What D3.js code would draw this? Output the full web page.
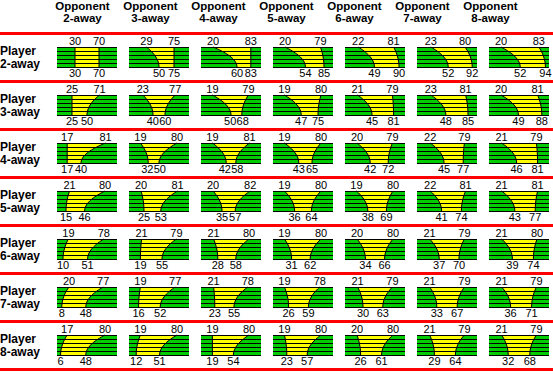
<!DOCTYPE html>
<html>
<head>
<meta charset="utf-8">
<script src="https://cdn.jsdelivr.net/npm/d3@7"></script>
<style>
  body { margin: 0; background: #fff; }
  text { font-family: Arial, "Liberation Sans", sans-serif; }
</style>
</head>
<body>
<svg id="chart"></svg>
<script>
// players / opponents (n-away)
const players = ["2-away", "3-away", "4-away", "5-away", "6-away", "7-away", "8-away"];
const opponents = ["2-away", "3-away", "4-away", "5-away", "6-away", "7-away", "8-away"];

// window edges, one row per player, one column per opponent
const topLow = [
    [30, 29, 20, 20, 22, 23, 20],
    [25, 23, 19, 19, 21, 23, 20],
    [17, 19, 19, 19, 20, 22, 21],
    [21, 20, 20, 19, 19, 22, 21],
    [19, 21, 21, 19, 20, 21, 21],
    [20, 19, 21, 19, 21, 21, 21],
    [17, 19, 19, 19, 20, 21, 21]
];
const topHigh = [
    [70, 75, 83, 79, 81, 80, 83],
    [71, 77, 79, 80, 79, 81, 81],
    [81, 80, 81, 80, 79, 79, 79],
    [80, 81, 82, 80, 80, 81, 81],
    [78, 79, 80, 80, 80, 79, 80],
    [77, 77, 78, 78, 79, 79, 79],
    [80, 80, 80, 80, 80, 79, 79]
];
const bottomLow = [
    [30, 50, 60, 54, 49, 52, 52],
    [25, 40, 50, 47, 45, 48, 49],
    [17, 32, 42, 43, 42, 45, 46],
    [15, 25, 35, 36, 38, 41, 43],
    [10, 19, 28, 31, 34, 37, 39],
    [8, 16, 23, 26, 30, 33, 36],
    [6, 12, 19, 23, 26, 29, 32]
];
const bottomHigh = [
    [70, 75, 83, 85, 90, 92, 94],
    [50, 60, 68, 75, 81, 85, 88],
    [40, 50, 58, 65, 72, 77, 81],
    [46, 53, 57, 64, 69, 74, 77],
    [51, 55, 58, 62, 66, 70, 74],
    [48, 52, 55, 59, 63, 67, 71],
    [48, 51, 54, 57, 61, 64, 68]
];

const width = 553, height = 374;
const boxW = 60, boxH = 20, stripes = 5;

const svg = d3.select("#chart")
    .attr("width", width)
    .attr("height", height);

// grid placement
const colX = d3.scaleLinear().domain([0, 6]).range([57, 489]);
const headX = d3.scaleLinear().domain([0, 6]).range([82.5, 490.5]);
const rowY = d3.scaleLinear().domain([0, 6]).range([47, 335]);

// inside a cell
const x = d3.scaleLinear().domain([0, 100]).range([0, boxW]);
const y = d3.scaleLinear().domain([0, 1]).range([0, boxH]);

// column headers
opponents.forEach((o, c) => {
    const t = svg.append("text")
        .attr("x", headX(c))
        .attr("text-anchor", "middle")
        .style("font-size", "11.5px")
        .style("font-weight", "bold");
    t.append("tspan").attr("x", headX(c)).attr("y", 10).text("Opponent");
    t.append("tspan").attr("x", headX(c)).attr("y", 22).text(o);
});

// red separators
d3.range(8).forEach(k => {
    svg.append("rect")
        .attr("x", 0)
        .attr("y", 32 + k * 48)
        .attr("width", width)
        .attr("height", 3)
        .attr("fill", "#ff0000");
});

// edge of window as it moves from top to bottom
const edge = (a, b) => d3.range(0, 1.0001, 0.05).map(t => [x(a + (b - a) * t * (2 - t)), y(t)]);
const line = d3.line();

// label pair positions, pushed apart when they would collide
const minGap = 12.5;
function labelPos(lo, hi) {
    let a = x(lo), b = x(hi);
    if (b - a < minGap) {
        const mid = (a + b) / 2;
        a = mid - minGap / 2;
        b = mid + minGap / 2;
    }
    return [a, b];
}

players.forEach((p, r) => {
    const lab = svg.append("text")
        .style("font-size", "12px")
        .style("font-weight", "bold");
    lab.append("tspan").attr("x", 0).attr("y", rowY(r) + 8).text("Player");
    lab.append("tspan").attr("x", 0).attr("y", rowY(r) + 21).text(p);

    opponents.forEach((o, c) => {
        const g = svg.append("g")
            .attr("transform", `translate(${colX(c)},${rowY(r)})`);

        const left = edge(topLow[r][c], bottomLow[r][c]);
        const right = edge(topHigh[r][c], bottomHigh[r][c]);

        g.append("rect")
            .attr("width", boxW)
            .attr("height", boxH)
            .attr("fill", "#00cc00");

        g.append("path")
            .attr("d", line(left.concat(right.slice().reverse())) + "Z")
            .attr("fill", "#ffff00");

        // stripes
        d3.range(stripes + 1).forEach(i => {
            g.append("line")
                .attr("x1", 0).attr("x2", boxW)
                .attr("y1", y(i / stripes) + 0.5).attr("y2", y(i / stripes) + 0.5)
                .attr("stroke", "#000")
                .attr("stroke-width", 1);
        });

        [left, right].forEach(pts => {
            g.append("path")
                .attr("d", line(pts))
                .attr("fill", "none")
                .attr("stroke", "#000")
                .attr("stroke-width", 1);
        });

        // numbers
        const topPos = labelPos(topLow[r][c], topHigh[r][c]);
        const botPos = labelPos(bottomLow[r][c], bottomHigh[r][c]);
        const nums = [
            [topLow[r][c], topPos[0], -2], [topHigh[r][c], topPos[1], -2],
            [bottomLow[r][c], botPos[0], boxH + 9.5], [bottomHigh[r][c], botPos[1], boxH + 9.5]
        ];
        nums.forEach(([v, tx, ty]) => {
            g.append("text")
                .attr("x", tx)
                .attr("y", ty)
                .attr("text-anchor", "middle")
                .style("font-size", "11px")
                .text(v);
        });
    });
});
</script>
</body>
</html>
